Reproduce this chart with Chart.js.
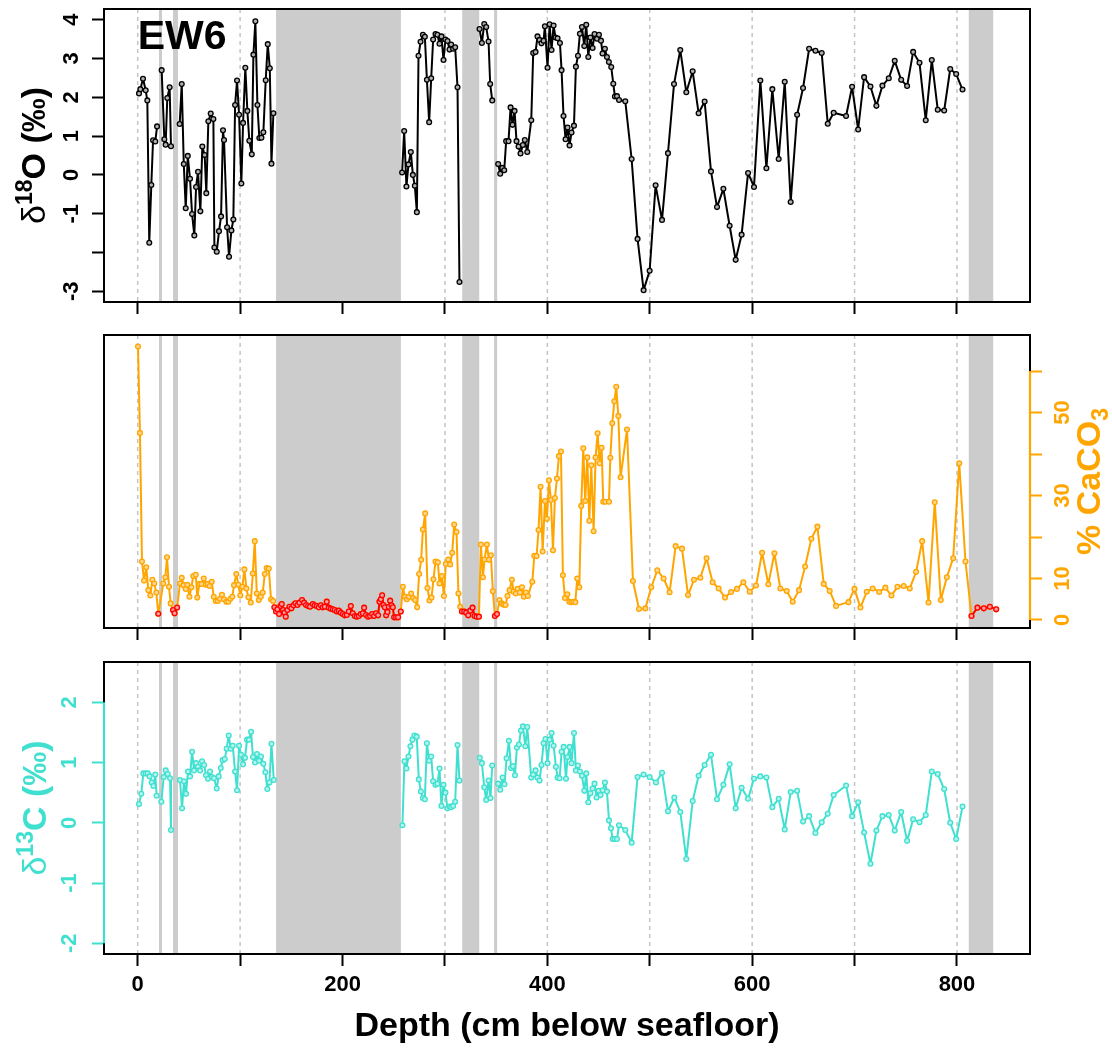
<!DOCTYPE html>
<html>
<head>
<meta charset="utf-8">
<script src="https://cdn.jsdelivr.net/npm/chart.js@4.4.1/dist/chart.umd.min.js"></script>
<style>
html, body { margin: 0; padding: 0; background: #ffffff; }
#wrap { position: relative; width: 1112px; height: 1049px; overflow: hidden; }
#wrap canvas { position: absolute; left: 0; }
</style>
</head>
<body>
<div id="wrap">
  <canvas id="c1" width="1112" height="320" style="top:0px"></canvas>
  <canvas id="c2" width="1112" height="320" style="top:320px"></canvas>
  <canvas id="c3" width="1112" height="409" style="top:640px"></canvas>
</div>
<script>
// ---------------- DATA ----------------
// Gray zones (depth, cm)
const bandStart = [20.8, 34.5, 135.1, 316.9, 348, 811.5];
const bandEnd   = [23.7, 39.4, 257.0, 333.5, 351, 835.4];

// Depth axis ticks
const depthTicks = [0, 100, 200, 300, 400, 500, 600, 700, 800];
const depthLabels = ['0', '', '200', '', '400', '', '600', '', '800'];

// delta 18O
const d18Depth = [1.3,2.6,5.2,7.8,9.4,11.3,13.3,15,17.2,18.9,23.4,26,27.3,28.9,31.2,32.5,
  41,43,45,46.9,48.9,51.1,53.1,55.3,57,58.9,61.2,63.1,65.4,67,69,71.3,73.9,74.9,77.2,79.4,
  81.4,83.3,84.3,87.3,89.2,91.5,93.4,95.1,97,99,101.2,102.9,105.1,107.1,109,111.4,113,114.9,116.9,118.8,
  120.8,122.7,125,127,129,130.6,132.5,
  258.2,260.2,262.4,264.4,266.7,268.7,270.6,272.6,274.2,276.2,278.5,280.4,282.4,284.6,286.6,288.5,290.8,292.7,294.7,296.6,
  298.6,300.5,302.5,304.5,306.1,308,310,312.3,314.2,
  333.8,336.1,338.4,340.3,342.6,344.2,346.2,
  352,354,356,357.9,359.8,362.1,364.1,366,368,369.9,371.9,373.8,376.1,378,380.4,384.3,386.2,388.5,390.4,392.4,
  394.3,396.3,397.6,400.2,402.2,404.1,406.1,408,410,412.3,413.9,415.8,417.8,419.7,421.7,423.6,426,427.9,429.9,431.8,
  433.8,436.1,438,440,442,444.2,446.1,448.5,450.4,452.4,453.9,456.2,458.2,460.1,462.4,464.4,466,468,470,476.1,
  482.3,488.1,494,499.9,505.7,512,517.8,523.7,529.8,535.7,541.9,547.7,553.6,559.8,565.7,571.9,578,583.9,589.7,596,
  601.8,608,613.9,619.7,625.9,631.8,637.6,643.9,649.7,655.6,661.8,667.9,673.8,679.6,691.7,697.6,703.5,709.3,715.5,721.3,
  727.2,733.4,739.2,745.5,751.3,757.2,763.4,769.5,775.4,781.2,787.5,793.4,799.2,805.4];
const d18Value = [2.10,2.21,2.48,2.18,1.92,-1.75,-0.26,0.89,0.86,1.25,2.70,0.92,0.78,1.98,2.26,0.74,
  1.31,2.34,0.28,-0.86,0.49,-0.10,-1.01,-1.56,-0.31,0.08,-0.94,0.73,0.51,-0.47,1.38,1.58,1.44,-1.87,-1.98,-1.45,
  -1.07,1.15,0.90,-1.35,-2.11,-1.43,-1.15,1.80,2.43,1.55,-0.22,1.34,2.76,1.65,0.88,0.53,3.10,3.96,1.80,0.95,
  0.96,1.10,2.44,3.37,2.75,0.29,1.59,
  0.06,1.13,-0.30,0.27,0.59,0.00,-0.28,-0.96,3.07,3.43,3.61,3.56,2.45,1.36,2.49,3.49,3.63,3.61,3.38,3.57,
  2.96,3.49,3.45,3.23,3.36,3.25,3.29,2.26,-2.76,
  3.76,3.40,3.89,3.81,3.44,2.34,1.92,
  0.28,0.03,0.18,0.12,0.87,0.87,1.74,1.29,1.65,0.87,0.73,0.55,0.77,0.90,0.59,1.41,3.14,3.17,3.57,3.48,
  3.39,3.46,3.83,2.76,3.88,3.22,3.85,3.54,3.52,3.40,2.70,1.52,0.92,1.22,0.76,1.09,1.27,2.79,3.07,3.64,
  3.81,3.32,3.87,3.04,3.54,3.27,3.63,3.51,3.61,3.46,3.13,3.25,3.04,2.91,2.78,2.35,2.02,2.03,1.93,1.90,
  0.41,-1.65,-2.97,-2.47,-0.27,-1.16,0.56,2.34,3.22,2.13,2.67,1.59,1.89,0.09,-0.83,-0.36,-1.31,-2.19,-1.54,0.05,
  -0.31,2.43,0.17,2.21,0.41,2.40,-0.70,1.55,2.24,3.25,3.20,3.14,1.32,1.60,1.52,2.27,1.17,2.52,2.28,1.78,
  2.30,2.49,2.94,2.45,2.29,3.17,2.89,1.41,2.96,1.68,1.66,2.73,2.60,2.20];
const d18Ticks = [-3, -2, -1, 0, 1, 2, 3, 4];
const d18Labels = ['-3', '', '-1', '0', '1', '2', '3', '4'];

// % CaCO3 (samples outside the gray zones)
const caDepth = [0.3,2.2,4.2,6.2,8.4,10.4,12.3,14.3,16.2,18.2,25,27,28.6,30.6,32.2,
  41.3,43,44.9,46.9,48.5,50.5,52.4,54.3,56.7,58.2,60.2,62.4,64.5,66.5,68.4,70.3,72.3,74.3,76.2,78.2,
  80.4,82.3,84.3,86.6,88.5,90.5,92.4,94.1,96.3,98.3,100.2,102.2,104.2,106.1,108.1,110.4,112.4,114.3,116.3,118.2,
  120.2,122.1,124.1,126,128,130.2,132.2,
  258.9,260.9,262.8,264.8,267,268.9,270.9,272.9,274.8,276.8,278.5,280.7,283,284.9,286.9,288.8,290.8,293.1,294.7,297,
  299,300.9,303.2,305.1,307.1,309,311.3,313.2,314.9,
  335.1,337.1,338.7,341,342.9,344.9,346.8,
  353.3,355.3,357.2,359.2,361.1,363.1,365.4,367,369.3,370.9,373.2,375.2,377.1,379.1,381,385.3,387.3,389.5,391.4,393.4,
  395.4,397.7,399.6,401.6,403.5,405.5,407.4,409.4,411.3,413.3,415.2,417.2,419.5,421.4,423.4,425.3,427.3,429.2,431.2,433.1,
  435.1,437,439,441,442.9,445.2,447.1,449.1,451,453,454.6,456.6,460.2,461.5,463.4,465.4,467.3,469.3,471.5,477.8,
  483.6,489.5,495.7,501.5,507.4,513.5,519.4,525.3,531.5,537.4,543.2,549.4,555.5,561.4,567.3,573.5,579.4,585.2,591.4,597.6,
  603.8,609.7,615.8,621.7,627.5,633.7,639.6,645.8,651.7,657.8,663.7,669.9,675.7,681.9,694,699.9,705.7,711.9,717.7,724,
  730.1,736,741.9,748,753.9,760.1,766,772.2,778.3,784.2,790.1,796.3,802.2,808.3];
const caValue = [65.9,45.1,14.1,9.5,12.7,7.2,5.9,9.7,8.8,6.6,8.8,10.3,15.1,8.0,4.0,
  8.8,10.2,8.4,7.5,8.5,5.6,7.9,10.6,10.9,5.4,8.7,8.7,10.0,8.5,8.7,8.2,9.2,5.6,4.6,4.6,
  5.1,6.1,5.0,4.4,4.4,5.1,5.6,8.4,11.1,8.5,5.9,8.0,12.2,7.6,5.5,4.2,11.2,19.0,6.4,4.8,
  5.6,6.6,11.1,12.5,12.4,5.0,4.6,
  8.0,5.6,5.0,5.6,6.4,5.3,4.8,3.05,11.1,14.5,21.8,25.7,7.7,4.7,5.4,9.8,14.1,13.9,8.8,10.6,
  5.8,13.5,14.6,13.4,16.2,23.0,21.2,6.4,3.2,
  18.2,10.3,14.6,18.2,14.5,15.6,6.9,
  4.8,4.0,3.7,3.6,5.8,7.2,9.7,6.8,6.4,7.5,6.6,7.9,5.6,6.6,5.8,9.2,15.5,15.4,21.7,32.1,
  16.5,28.7,24.4,33.7,28.9,16.8,29.4,34.1,39.5,40.6,10.8,5.3,6.2,4.4,4.3,4.4,4.3,10.0,7.9,27.5,
  41.4,28.7,39.2,23.9,37.3,21.4,39.2,45.0,37.8,41.5,28.5,28.5,28.5,39.1,47.4,52.7,56.2,49.2,34.4,45.9,
  9.4,2.65,2.8,7.9,12.0,10.0,6.7,17.8,17.2,6.0,9.7,10.2,14.9,9.1,7.6,5.4,6.75,7.5,9.1,6.8,
  8.3,16.2,8.6,16.1,7.6,7.0,4.4,7.2,12.9,19.6,22.5,8.7,7.0,3.4,4.3,7.5,3.0,6.8,7.6,6.75,
  7.8,5.9,8.0,8.2,7.6,11.6,19.0,4.2,28.4,4.8,10.3,14.9,37.8,14.1];
// % CaCO3 (samples inside the gray zones, drawn red)
const caZoneDepth = [20.1,34.5,36,38.5,
  133.5,135.1,136.4,138.1,139.4,140.7,142.0,143.3,144.6,146.2,148.2,150.1,152.1,154.0,156.0,157.9,160.5,162.5,164.4,166.4,
  168.3,171.0,172.9,174.9,176.8,178.8,180.7,182.7,184.6,186.6,188.5,190.5,192.4,194.4,196.4,198.3,200.3,202.2,204.2,206.1,
  208.1,210.0,212.0,213.9,215.9,217.8,219.8,221.1,223.0,225.0,226.9,228.9,230.8,232.8,234.8,236.1,237.4,238.7,240.0,241.3,
  242.6,243.9,245.2,246.5,247.8,249.1,250.4,252.3,254.3,256.9,
  316.6,318.9,320.8,322.8,324.7,327,328.9,330.9,333.2,
  348.8,350.8,
  814.2,820,826.2,832.1,838.3];
const caZoneValue = [1.5,2.4,1.6,3.0,
  3.05,2.03,2.57,1.45,3.37,3.86,2.41,1.77,0.80,2.41,3.21,2.81,3.53,4.02,3.61,4.18,4.82,4.18,3.61,3.37,
  3.21,3.86,3.53,3.37,3.05,3.53,3.05,3.21,4.42,2.97,2.73,2.57,2.41,2.03,2.25,1.77,1.45,1.12,1.20,2.03,
  3.37,1.61,0.96,0.80,0.96,1.45,1.61,2.97,1.20,0.80,0.96,1.45,0.96,1.61,1.12,4.42,4.98,5.94,3.61,3.05,
  1.12,1.93,3.21,4.66,3.53,3.05,0.64,0.64,0.64,2.03,
  2.03,2.03,1.77,1.12,2.25,2.97,0.96,0.80,0.80,
  0.96,1.45,
  0.96,2.97,2.81,3.21,2.57];
const caTicks = [0, 10, 20, 30, 40, 50, 60];
const caLabels = ['0', '10', '', '30', '', '50', ''];

// delta 13C
const d13Depth = [1.3,3.5,5.5,7.8,9.8,11.7,13.7,15.3,17.2,18.5,23.1,25.4,27.4,29.3,31.6,32.5,
  41.3,43.3,45.2,47.2,49.1,51.1,53.1,55,57,58.9,60.9,62.8,64.8,66.7,68.7,70.6,72.6,74.5,77.2,79.1,
  81.1,83,85,86.9,88.9,90.8,92.8,95.1,97,99,100.9,102.9,104.8,106.8,108.7,110.7,112.6,114.6,116.5,118.5,
  120.4,122.7,124.7,126.6,128.6,130.6,132.9,
  258.5,260.5,262.4,264.4,266.3,268.3,270.2,272.5,274.5,276.5,278.5,280.4,282.4,284.6,286.6,288.5,290.8,292.7,294.7,296.6,
  298.6,300.5,302.5,304.5,306.1,308,310,312.3,314.2,
  334.1,336.1,338.4,340.3,342.6,344.5,346.2,
  352,354,356.3,358.2,360.2,362.5,364.5,366.4,368.4,370.3,372.3,374.2,376.2,378.5,380.4,384.3,386.2,388.5,390.4,392.4,
  394.3,396.3,398.2,400.2,402.2,404.1,406.1,408.4,410,412,413.9,415.9,418.2,419.7,421.7,423.6,426,427.9,429.9,431.8,
  433.8,436.1,438,440,442,444.2,446.1,448.1,450.1,452,454,456.2,458.2,460.2,462.1,463.8,465.8,468,470,476.1,
  482.3,488.1,494,499.9,506.1,512,517.8,524,529.8,535.7,541.9,547.7,553.6,559.8,565.7,571.9,578,583.9,589.7,596,
  601.8,608,613.9,619.7,625.9,631.8,637.6,643.9,649.7,655.6,661.8,667.9,673.8,679.6,691.7,697.6,703.5,709.3,715.5,721.3,
  727.2,733.4,739.2,745.5,751.3,757.2,763.4,769.5,775.4,781.2,787.5,793.4,799.2,805.4];
const d13Value = [0.31,0.48,0.82,0.82,0.82,0.77,0.67,0.61,0.80,0.45,0.35,0.76,0.87,0.81,0.74,-0.12,
  0.71,0.24,0.69,0.48,0.85,0.77,1.18,0.87,0.99,0.93,0.87,1.02,0.96,0.79,0.73,0.85,0.76,0.74,0.57,0.77,
  0.91,1.04,1.06,1.23,1.45,1.23,1.28,0.85,0.54,1.28,1.13,0.97,1.08,1.38,1.38,1.51,1.09,1.00,1.14,1.03,
  1.10,0.98,0.84,0.56,0.67,1.31,0.71,
  -0.04,1.02,0.90,1.10,1.27,1.38,1.45,1.43,0.72,0.52,0.41,0.39,1.32,1.03,1.10,0.69,0.63,0.65,0.90,0.28,
  0.63,0.50,0.24,0.27,0.26,0.28,0.35,1.29,0.70,
  1.08,0.99,0.59,0.38,0.70,0.41,0.95,
  0.65,0.55,0.75,0.64,1.07,1.36,0.91,0.94,0.79,1.25,1.30,1.53,1.60,1.27,1.59,0.75,0.80,0.87,0.75,0.70,
  0.96,1.32,1.39,0.99,1.38,1.49,1.28,0.93,0.75,0.74,1.18,1.26,0.73,1.09,1.26,0.99,1.49,0.87,0.95,0.85,
  0.78,0.53,0.82,0.34,0.49,0.57,0.65,0.42,0.53,0.46,0.54,0.67,0.52,0.04,-0.09,-0.27,-0.27,-0.27,-0.04,-0.12,
  -0.33,0.76,0.80,0.76,0.67,0.83,0.19,0.42,0.18,-0.60,0.36,0.78,0.96,1.13,0.39,0.63,0.97,0.24,0.58,0.40,
  0.73,0.77,0.75,0.26,0.40,-0.11,0.51,0.53,0.02,0.11,-0.17,0.01,0.15,0.46,0.62,0.11,0.34,-0.16,-0.68,-0.13,
  0.11,0.13,-0.13,0.18,-0.30,0.06,0.01,0.13,0.85,0.81,0.56,0.00,-0.27,0.27];
const d13Ticks = [-2, -1, 0, 1, 2];
const d13Labels = ['-2', '-1', '0', '1', '2'];

// ---------------- STYLE / HELPERS ----------------
const FONT = '"Liberation Sans", Arial, Helvetica, sans-serif';
const ORANGE = '#FFA500';
const CYAN = '#40E0D0';
const X_MIN = -32.9, X_MAX = 871.3;
Chart.defaults.font.family = FONT;

// break the line where a gray zone lies between two consecutive samples
function withZoneGaps(xs, ys) {
  const out = [];
  for (let i = 0; i < xs.length; i++) {
    if (i > 0) {
      const a = xs[i - 1], b = xs[i];
      const crosses = bandStart.some((s, k) => { const m = (s + bandEnd[k]) / 2; return m > a && m < b; });
      if (crosses) out.push({ x: (a + b) / 2, y: null });
    }
    out.push({ x: xs[i], y: ys[i] });
  }
  return out;
}
// break where samples are far apart (for zone groups)
function withDistanceGaps(xs, ys, maxGap) {
  const out = [];
  for (let i = 0; i < xs.length; i++) {
    if (i > 0 && xs[i] - xs[i - 1] > maxGap) out.push({ x: (xs[i] + xs[i - 1]) / 2, y: null });
    out.push({ x: xs[i], y: ys[i] });
  }
  return out;
}
function mergedPoints(x1, y1, x2, y2) {
  const pts = [];
  x1.forEach((x, i) => pts.push({ x, y: y1[i] }));
  x2.forEach((x, i) => pts.push({ x, y: y2[i] }));
  pts.sort((a, b) => a.x - b.x);
  return pts;
}

function drawRotatedRich(ctx, parts, baselineX, centerY, color) {
  ctx.save();
  ctx.translate(baselineX, centerY);
  ctx.rotate(-Math.PI / 2);
  let total = 0;
  parts.forEach(p => {
    ctx.font = `${p.weight || 'bold'} ${p.size}px ${FONT}`;
    p.w = ctx.measureText(p.t).width;
    total += p.w;
  });
  let x = -total / 2;
  ctx.fillStyle = color;
  ctx.textAlign = 'left';
  ctx.textBaseline = 'alphabetic';
  parts.forEach(p => {
    ctx.font = `${p.weight || 'bold'} ${p.size}px ${FONT}`;
    ctx.fillText(p.t, x, p.dy || 0);
    x += p.w;
  });
  ctx.restore();
}

function makeDecor(cfg) {
  return {
    id: 'decor_' + cfg.key,
    beforeDatasetsDraw(chart) {
      const { ctx, chartArea: ca } = chart;
      const xs = chart.scales.x;
      ctx.save();
      ctx.beginPath();
      ctx.rect(ca.left, ca.top, ca.right - ca.left, ca.bottom - ca.top);
      ctx.clip();
      ctx.strokeStyle = '#c4c4c4';
      ctx.lineWidth = 1.5;
      ctx.setLineDash([4, 4]);
      depthTicks.forEach(d => {
        const px = xs.getPixelForValue(d);
        ctx.beginPath();
        ctx.moveTo(px, ca.top);
        ctx.lineTo(px, ca.bottom);
        ctx.stroke();
      });
      ctx.setLineDash([]);
      ctx.fillStyle = '#cccccc';
      bandStart.forEach((s, k) => {
        const a = xs.getPixelForValue(s), b = xs.getPixelForValue(bandEnd[k]);
        ctx.fillRect(a, ca.top, b - a, ca.bottom - ca.top);
      });
      ctx.restore();
    },
    afterDatasetsDraw(chart) {
      const { ctx, chartArea: ca } = chart;
      ctx.save();
      ctx.strokeStyle = '#000';
      ctx.lineWidth = 2;
      ctx.strokeRect(ca.left, ca.top, ca.right - ca.left, ca.bottom - ca.top);
      if (cfg.axisLine) {
        const ys = chart.scales.y;
        const al = cfg.axisLine;
        const xx = al.side === 'right' ? ca.right : ca.left;
        ctx.strokeStyle = al.color;
        ctx.lineWidth = 2.2;
        ctx.beginPath();
        ctx.moveTo(xx, ys.getPixelForValue(al.from));
        ctx.lineTo(xx, ys.getPixelForValue(al.to));
        ctx.stroke();
      }
      if (cfg.label) {
        ctx.fillStyle = '#000';
        ctx.font = `bold 41px ${FONT}`;
        ctx.textAlign = 'left';
        ctx.textBaseline = 'alphabetic';
        ctx.fillText(cfg.label, chart.scales.x.getPixelForValue(0), 49);
      }
      if (cfg.title) {
        drawRotatedRich(ctx, cfg.title.parts, cfg.title.x, (ca.top + ca.bottom) / 2, cfg.title.color);
      }
      ctx.restore();
    }
  };
}

function xScale(height, showLabels) {
  return {
    type: 'linear', position: 'bottom', min: X_MIN, max: X_MAX,
    afterBuildTicks: s => { s.ticks = depthTicks.map(v => ({ value: v })); },
    afterFit: s => { s.height = height; s.paddingLeft = 0; s.paddingRight = 0; },
    grid: { drawOnChartArea: false, drawTicks: true, tickLength: 12, tickColor: '#000', tickWidth: 2 },
    border: { display: false },
    ticks: {
      autoSkip: false, maxRotation: 0, minRotation: 0, padding: 6, color: '#000',
      font: { family: FONT, size: 22, weight: 'bold' },
      callback: (v) => { if (!showLabels) return ''; const i = depthTicks.indexOf(v); return i >= 0 ? depthLabels[i] : ''; }
    }
  };
}

function yScale(opts) {
  return {
    type: 'linear', position: opts.position, min: opts.min, max: opts.max,
    afterBuildTicks: s => { s.ticks = opts.ticks.map(v => ({ value: v })); },
    afterFit: s => { s.width = opts.width; s.paddingTop = 0; s.paddingBottom = 0; },
    grid: { drawOnChartArea: false, drawTicks: true, tickLength: 12, tickColor: opts.color, tickWidth: 2 },
    border: { display: false },
    ticks: {
      autoSkip: false, minRotation: 90, maxRotation: 90, crossAlign: 'center', padding: opts.pad,
      color: opts.color, font: { family: FONT, size: 22, weight: 'bold' },
      callback: (v) => { const i = opts.ticks.indexOf(v); return i >= 0 ? opts.labels[i] : ''; }
    }
  };
}

const common = {
  responsive: false, animation: false, devicePixelRatio: 1, events: [],
  plugins: { legend: { display: false }, tooltip: { enabled: false }, title: { display: false } },
};

// ---------------- PANEL 1: d18O ----------------
new Chart(document.getElementById('c1'), {
  type: 'line',
  data: {
    datasets: [{
      data: withZoneGaps(d18Depth, d18Value),
      borderColor: '#000', borderWidth: 2, borderJoinStyle: 'round', borderCapStyle: 'round',
      pointRadius: 2.4, pointBorderWidth: 1.3, pointBorderColor: '#000', pointBackgroundColor: '#b0b0b0',
      spanGaps: false, tension: 0
    }]
  },
  options: Object.assign({}, common, {
    layout: { padding: { left: 0, right: 82, top: 9, bottom: 0 } },
    scales: {
      x: xScale(18, false),
      y: yScale({ position: 'left', min: -3.276, max: 4.276, ticks: d18Ticks, labels: d18Labels, width: 104, color: '#000', pad: 10 })
    }
  }),
  plugins: [makeDecor({
    key: 'p1', label: 'EW6',
    title: { x: 45, color: '#000', parts: [
      { t: 'δ', size: 34, weight: 'normal' },
      { t: '18', size: 23, dy: -13 },
      { t: 'O (‰)', size: 34 }
    ] }
  })]
});

// ---------------- PANEL 2: % CaCO3 ----------------
new Chart(document.getElementById('c2'), {
  type: 'line',
  data: {
    datasets: [
      {
        data: withDistanceGaps(caZoneDepth, caZoneValue, 10),
        borderColor: '#FF0000', borderWidth: 2, borderJoinStyle: 'round',
        pointRadius: 2.4, pointBorderWidth: 1.3, pointBorderColor: '#FF0000', pointBackgroundColor: '#ff9c9c',
        spanGaps: false, tension: 0, order: 1
      },
      {
        data: mergedPoints(caDepth, caValue, caZoneDepth, caZoneValue),
        borderColor: ORANGE, borderWidth: 2, borderJoinStyle: 'round',
        pointRadius: 2.4, pointBorderWidth: 1.3, pointBorderColor: ORANGE, pointBackgroundColor: '#ffd78c',
        spanGaps: false, tension: 0, order: 2
      }
    ]
  },
  options: Object.assign({}, common, {
    layout: { padding: { left: 104, right: 0, top: 15, bottom: 0 } },
    scales: {
      x: xScale(12, false),
      y: yScale({ position: 'right', min: -1.93, max: 68.7, ticks: caTicks, labels: caLabels, width: 82, color: ORANGE, pad: 9 })
    }
  }),
  plugins: [makeDecor({
    key: 'p2',
    axisLine: { side: 'right', from: 0, to: 60, color: ORANGE },
    title: { x: 1100, color: ORANGE, parts: [
      { t: '% CaCO', size: 34 },
      { t: '3', size: 23, dy: 8 }
    ] }
  })]
});

// ---------------- PANEL 3: d13C ----------------
const x3 = xScale(95, true);
x3.title = { display: true, text: 'Depth (cm below seafloor)', color: '#000',
  font: { family: FONT, size: 34, weight: 'bold' }, padding: { top: 0, bottom: 2 } };
new Chart(document.getElementById('c3'), {
  type: 'line',
  data: {
    datasets: [{
      data: withZoneGaps(d13Depth, d13Value),
      borderColor: CYAN, borderWidth: 2, borderJoinStyle: 'round', borderCapStyle: 'round',
      pointRadius: 2.4, pointBorderWidth: 1.3, pointBorderColor: CYAN, pointBackgroundColor: '#b4f3ec',
      spanGaps: false, tension: 0
    }]
  },
  options: Object.assign({}, common, {
    layout: { padding: { left: 0, right: 82, top: 22, bottom: 0 } },
    scales: {
      x: x3,
      y: yScale({ position: 'left', min: -2.178, max: 2.669, ticks: d13Ticks, labels: d13Labels, width: 104, color: CYAN, pad: 12.5 })
    }
  }),
  plugins: [makeDecor({
    key: 'p3',
    axisLine: { side: 'left', from: -2, to: 2, color: CYAN },
    title: { x: 46, color: CYAN, parts: [
      { t: 'δ', size: 34, weight: 'normal' },
      { t: '13', size: 23, dy: -13 },
      { t: 'C (‰)', size: 34 }
    ] }
  })]
});
</script>
</body>
</html>
